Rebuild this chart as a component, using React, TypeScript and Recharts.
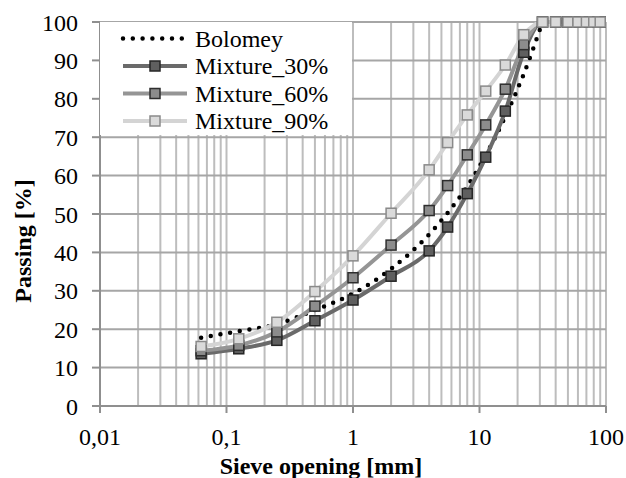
import React from 'react';
import { LineChart, Line, XAxis, YAxis, CartesianGrid, Legend } from 'recharts';

// Sieve openings [mm] used for the mixtures and the Bolomey reference curve
const sieveSizes = [0.063, 0.125, 0.25, 0.5, 1, 2, 4, 5.6, 8, 11.2, 16, 22.4, 31.5, 40, 50, 60, 70, 80, 90];
const bolomeySizes = [0.063, 0.125, 0.25, 0.5, 1, 2, 4, 5.6, 8, 11.2, 16, 22.4, 31.5];

// Passing [%]
const bolomeyPassing = [17.8, 19.5, 21.3, 25.0, 29.3, 35.7, 44.7, 50.3, 57.2, 65.3, 75.4, 86.5, 100];
const mixture30 = [13.6, 14.9, 17.1, 22.2, 27.6, 33.8, 40.4, 46.6, 55.3, 64.8, 76.8, 92.1, 100, 100, 100, 100, 100, 100, 100];
const mixture60 = [14.4, 15.8, 19.3, 26.0, 33.4, 41.9, 50.9, 57.4, 65.4, 73.2, 82.5, 94.1, 100, 100, 100, 100, 100, 100, 100];
const mixture90 = [15.5, 17.5, 21.8, 29.8, 39.1, 50.2, 61.5, 68.6, 75.8, 82.0, 88.8, 96.7, 100, 100, 100, 100, 100, 100, 100];

const decadeValues = [0.01, 0.1, 1, 10, 100];
const decadeLabels = ['0,01', '0,1', '1', '10', '100'];
const yTicks = [0, 10, 20, 30, 40, 50, 60, 70, 80, 90, 100];

const seriesNames = ['Bolomey', 'Mixture_30%', 'Mixture_60%', 'Mixture_90%'];

const FONT = '"Liberation Serif", "Times New Roman", serif';

// grid positions: 1..9 within each decade
const gridTicks: number[] = [];
for (const d of [0.01, 0.1, 1, 10]) {
  for (let m = 1; m <= 9; m++) gridTicks.push(Number((d * m).toPrecision(3)));
}
gridTicks.push(100);

const toPoints = (xs: number[], ys: number[]) => xs.map((d, i) => ({ d, p: ys[i] }));

const bolomeyData = toPoints(bolomeySizes, bolomeyPassing);
const mix30Data = toPoints(sieveSizes, mixture30);
const mix60Data = toPoints(sieveSizes, mixture60);
const mix90Data = toPoints(sieveSizes, mixture90);

const styles = [
  { line: '#000000', fill: '', border: '', dotted: true },
  { line: '#6a6a6a', fill: '#5f5f5f', border: '#262626', dotted: false },
  { line: '#959595', fill: '#8c8c8c', border: '#2e2e2e', dotted: false },
  { line: '#d4d4d4', fill: '#dadada', border: '#8a8a8a', dotted: false },
];

const squareDot = (fill: string, border: string) => (props: any) => {
  const { cx, cy, index } = props;
  if (cx == null || cy == null) return <g key={index} />;
  return (
    <rect key={index} x={cx - 5} y={cy - 5} width={10} height={10}
      fill={fill} stroke={border} strokeWidth={1.5} />
  );
};

const XTick = (props: any) => {
  const { x, y, payload } = props;
  const idx = decadeValues.indexOf(payload.value);
  if (idx < 0) return <g />;
  return (
    <g>
      <line x1={x} y1={y} x2={x} y2={y + 7} stroke="#8f8f8f" strokeWidth={2} />
      <text x={x} y={y + 22} dy="0.71em" textAnchor="middle" fontSize={24}
        fontFamily={FONT} fill="#000">{decadeLabels[idx]}</text>
    </g>
  );
};

const xTitle = () => (
  <text x={321} y={474} textAnchor="middle" fontSize={24} fontWeight="bold"
    fontFamily={FONT} fill="#000">Sieve opening [mm]</text>
);

const yTitle = () => (
  <text x={31} y={241} transform="rotate(-90, 31, 241)" textAnchor="middle"
    fontSize={24} fontWeight="bold" fontFamily={FONT} fill="#000">Passing [%]</text>
);

const rowY = [16.5, 44, 71.5, 99];

const renderLegend = () => (
  <svg width={252} height={113} style={{ display: 'block' }}>
    {seriesNames.map((name, i) => {
      const s = styles[i];
      const y = rowY[i];
      return (
        <g key={name}>
          {s.dotted ? (
            <line x1={23} y1={y} x2={86} y2={y} stroke={s.line} strokeWidth={4.5}
              strokeDasharray="0 9.8" strokeLinecap="round" />
          ) : (
            <g>
              <line x1={23} y1={y} x2={87} y2={y} stroke={s.line} strokeWidth={4} />
              <rect x={50} y={y - 5} width={10} height={10} fill={s.fill}
                stroke={s.border} strokeWidth={1.5} />
            </g>
          )}
          <text x={95} y={y + 8} fontSize={24} fontFamily={FONT} fill="#000">{name}</text>
        </g>
      );
    })}
  </svg>
);

export default function App() {
  return (
    <div style={{ position: 'absolute', left: 0, top: 0, width: 626, height: 478, background: '#fff' }}>
      <LineChart width={626} height={478} margin={{ top: 22, right: 20, bottom: 0, left: 0 }}>
        <CartesianGrid horizontal={false} stroke="#bdbdbd" strokeWidth={2} />
        <CartesianGrid vertical={false} stroke="#a6a6a6" strokeWidth={2} />
        <XAxis
          type="number"
          dataKey="d"
          scale="log"
          domain={[0.01, 100]}
          ticks={gridTicks}
          interval={0}
          tick={<XTick />}
          tickLine={false}
          tickSize={0}
          tickMargin={0}
          axisLine={{ stroke: '#8f8f8f', strokeWidth: 2 }}
          height={72}
          allowDataOverflow
          label={xTitle}
        />
        <YAxis
          type="number"
          domain={[0, 100]}
          ticks={yTicks}
          interval={0}
          width={100}
          tickSize={8}
          tickMargin={14}
          tick={{ fontSize: 24, fill: '#000', fontFamily: FONT }}
          tickLine={{ stroke: '#8f8f8f', strokeWidth: 2 }}
          axisLine={{ stroke: '#8f8f8f', strokeWidth: 2 }}
          label={yTitle}
        />
        <Legend
          layout="vertical"
          align="center"
          verticalAlign="middle"
          content={renderLegend}
          wrapperStyle={{ left: 100, top: 22, width: 252, height: 113, background: '#fff' }}
        />
        <Line
          data={bolomeyData}
          dataKey="p"
          name={seriesNames[0]}
          type="monotone"
          stroke={styles[0].line}
          strokeWidth={4.5}
          strokeDasharray="0 9.8"
          strokeLinecap="round"
          dot={false}
          isAnimationActive={false}
        />
        <Line
          data={mix30Data}
          dataKey="p"
          name={seriesNames[1]}
          type="monotone"
          stroke={styles[1].line}
          strokeWidth={4}
          dot={squareDot(styles[1].fill, styles[1].border)}
          isAnimationActive={false}
        />
        <Line
          data={mix60Data}
          dataKey="p"
          name={seriesNames[2]}
          type="monotone"
          stroke={styles[2].line}
          strokeWidth={4}
          dot={squareDot(styles[2].fill, styles[2].border)}
          isAnimationActive={false}
        />
        <Line
          data={mix90Data}
          dataKey="p"
          name={seriesNames[3]}
          type="monotone"
          stroke={styles[3].line}
          strokeWidth={4}
          dot={squareDot(styles[3].fill, styles[3].border)}
          isAnimationActive={false}
        />
      </LineChart>
    </div>
  );
}
